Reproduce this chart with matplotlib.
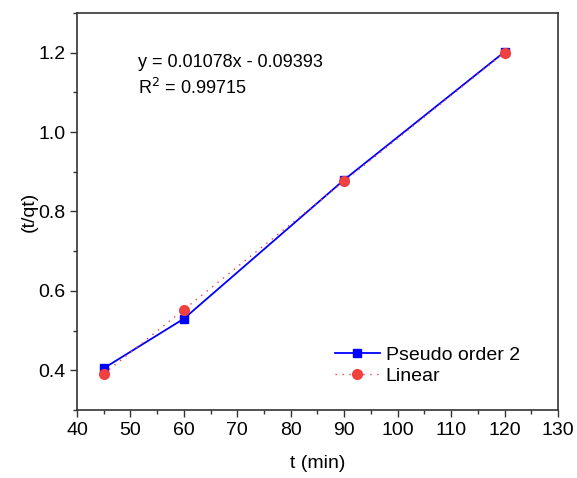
import matplotlib.pyplot as plt
from matplotlib.ticker import MultipleLocator

plt.rcParams['font.family'] = ['Liberation Sans', 'DejaVu Sans']

t = [45, 60, 90, 120]
pseudo2 = [0.405, 0.530, 0.880, 1.202]
linear = [0.391, 0.553, 0.876, 1.200]

fig = plt.figure(figsize=(5.77, 4.78), dpi=100)
ax = fig.add_axes([0.1335, 0.1423, 0.8335, 0.8305])

ax.plot(t, pseudo2, color='#0000ff', lw=1.3, marker='s', ms=6, label='Pseudo order 2')
ax.plot(t, linear, color='#f04040', lw=1.0, ls=(0, (1, 4)), marker='o', ms=7, label='Linear')

ax.set_xlim(40, 130)
ax.set_ylim(0.3, 1.3)
ax.xaxis.set_major_locator(MultipleLocator(10))
ax.xaxis.set_minor_locator(MultipleLocator(5))
ax.yaxis.set_major_locator(MultipleLocator(0.2))
ax.yaxis.set_minor_locator(MultipleLocator(0.1))
ax.yaxis.set_major_formatter(plt.FuncFormatter(lambda v, p: f"{v:.1f}"))
ax.tick_params(which='major', direction='out', length=5, width=1, labelsize=14, color='#333333')
ax.tick_params(which='minor', direction='out', length=3, width=1, color='#333333')
for s in ax.spines.values():
    s.set_color('#333333')
    s.set_linewidth(1.2)

ax.set_xlabel('t (min)', fontsize=14, labelpad=12)
ax.set_ylabel('(t/qt)', fontsize=14, labelpad=0)

ax.text(0.127, 0.875, 'y = 0.01078x - 0.09393', transform=ax.transAxes, fontsize=13, va='center')
ax.text(0.127, 0.81, 'R$^2$ = 0.99715', transform=ax.transAxes, fontsize=13, va='center')

ax.legend(loc='lower left', bbox_to_anchor=(0.5, 0.02), frameon=False, fontsize=14,
          handlelength=2.3, handletextpad=0.3, labelspacing=0.15)

fig.savefig('out.png', dpi=100)
